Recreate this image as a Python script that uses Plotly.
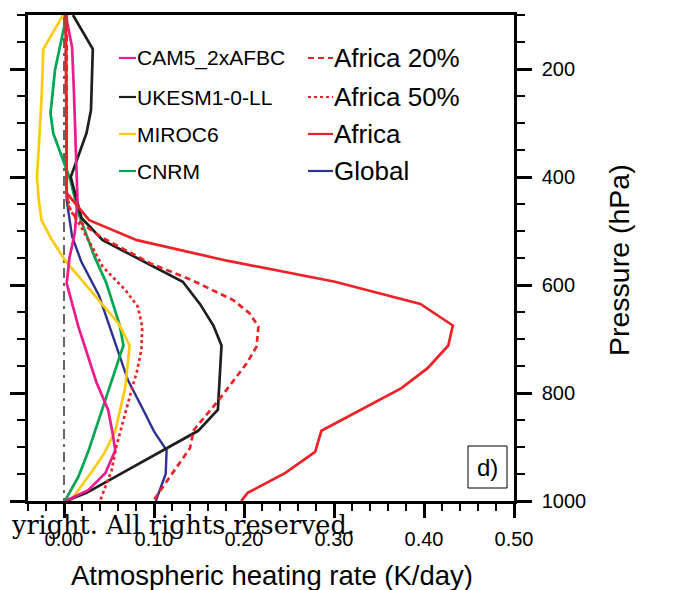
import plotly.graph_objects as go

# ---------------- data ----------------
cam5_p = [100, 160, 240, 393, 443, 504, 550, 597, 677, 780, 831, 874, 906, 948, 980, 995, 1000]
cam5_x = [0.002, 0.009, 0.011, 0.014, 0.015, 0.012, 0.006, 0.003, 0.016, 0.036, 0.049, 0.054, 0.057, 0.046, 0.027, 0.008, 0.001]

ukesm_p = [100, 163, 276, 319, 400, 476, 517, 594, 635, 675, 712, 831, 870, 985, 1000]
ukesm_x = [0.010, 0.032, 0.030, 0.025, 0.0075, 0.0195, 0.043, 0.132, 0.151, 0.166, 0.175, 0.171, 0.149, 0.025, 0.002]

miroc_p = [100, 163, 257, 400, 443, 480, 515, 554, 672, 712, 790, 831, 870, 911, 943, 1000]
miroc_x = [-0.001, -0.023, -0.025, -0.030, -0.028, -0.025, -0.014, 0.001, 0.061, 0.073, 0.068, 0.062, 0.057, 0.045, 0.032, 0.007]

cnrm_p = [100, 202, 282, 319, 405, 467, 548, 596, 675, 712, 908, 955, 1000]
cnrm_x = [0.003, -0.010, -0.015, -0.012, 0.007, 0.016, 0.034, 0.047, 0.062, 0.066, 0.027, 0.016, 0.001]

global_p = [100, 443, 510, 556, 620, 700, 776, 831, 871, 906, 950, 1000]
global_x = [0.002, 0.003, 0.009, 0.019, 0.039, 0.055, 0.071, 0.088, 0.100, 0.114, 0.113, 0.102]

africa_p = [100, 430, 480, 517, 555, 594, 635, 675, 712, 754, 791, 870, 909, 948, 985, 1000]
africa_x = [0.002, 0.003, 0.028, 0.081, 0.181, 0.301, 0.396, 0.432, 0.427, 0.404, 0.375, 0.286, 0.279, 0.246, 0.204, 0.197]

africa20_p = [100, 430, 455, 480, 510, 560, 591, 628, 652, 677, 714, 745, 813, 869, 902, 1000]
africa20_x = [0.003, 0.003, 0.005, 0.015, 0.040, 0.096, 0.142, 0.188, 0.206, 0.216, 0.214, 0.203, 0.172, 0.144, 0.140, 0.099]

africa50_p = [100, 430, 461, 498, 566, 609, 640, 677, 720, 760, 807, 900, 943, 1000]
africa50_x = [0.002, 0.003, 0.007, 0.021, 0.043, 0.068, 0.082, 0.087, 0.086, 0.081, 0.073, 0.058, 0.053, 0.040]

zero_x = [0.0, 0.0]
zero_p = [100, 1000]

x_ticks = [0.0, 0.1, 0.2, 0.3, 0.4, 0.5]
x_ticklabels = ["0.00", "0.10", "0.20", "0.30", "0.40", "0.50"]
y_ticks = [200, 400, 600, 800, 1000]

# ---------------- styles ----------------
PINK = "#EC1C8C"
BLACK = "#1E1E1E"
YELLOW = "#FDCB0E"
GREEN = "#00A651"
RED = "#ED2228"
BLUE = "#2E3192"
LONG = "6px,4px"
SHORT = "3px,3px"

FONT = "Liberation Sans, Arial, sans-serif"

# the page body adds an 8px offset; sizes below are set so the screen layout matches
OFF = 8
WIN_W, WIN_H = 691, 590
W, H = WIN_W - OFF, WIN_H - OFF
L, R, T, B = 28, 514, 15, 501   # plot area in screen pixels
PW, PH = R - L, B - T


def px(xp):
    return (xp - L) / PW


def py(yp):
    return (B - yp) / PH


fig = go.Figure()

fig.add_trace(go.Scatter(x=zero_x, y=zero_p, mode="lines",
                         line=dict(color="black", width=1.2, dash="10px,5px,3px,5px"),
                         hoverinfo="skip", showlegend=False))

series = [
    (global_x, global_p, BLUE, 2.4, "solid", "Global"),
    (cnrm_x, cnrm_p, GREEN, 2.7, "solid", "CNRM"),
    (miroc_x, miroc_p, YELLOW, 2.7, "solid", "MIROC6"),
    (ukesm_x, ukesm_p, BLACK, 2.7, "solid", "UKESM1-0-LL"),
    (cam5_x, cam5_p, PINK, 2.7, "solid", "CAM5_2xAFBC"),
    (africa50_x, africa50_p, RED, 2.7, SHORT, "Africa 50%"),
    (africa20_x, africa20_p, RED, 2.7, LONG, "Africa 20%"),
    (africa_x, africa_p, RED, 2.7, "solid", "Africa"),
]
for xs, ps, col, w, dash, name in series:
    fig.add_trace(go.Scatter(x=xs, y=ps, mode="lines", name=name,
                             line=dict(color=col, width=w, dash=dash),
                             showlegend=False))

axis_common = dict(showline=True, linecolor="black", linewidth=2.5,
                   showgrid=False, zeroline=False, ticks="outside",
                   tickcolor="black", tickwidth=2.5, automargin=False,
                   tickfont=dict(family=FONT, size=20, color="black"))

fig.update_xaxes(range=[-0.04, 0.50], tickvals=x_ticks, ticktext=x_ticklabels,
                 ticklen=14, mirror=True,
                 minor=dict(dtick=0.02, tick0=0, ticklen=7, tickwidth=2,
                            tickcolor="black", ticks="outside"),
                 ticklabelstandoff=4, **axis_common)
fig.update_yaxes(range=[1000, 100], tickvals=y_ticks, side="right",
                 ticklen=15, mirror="ticks",
                 minor=dict(dtick=50, tick0=0, ticklen=8, tickwidth=2,
                            tickcolor="black", ticks="outside"),
                 ticklabelstandoff=6, **axis_common)

shapes = []
annotations = []

# left legend column
left_items = [("CAM5_2xAFBC", PINK, 58), ("UKESM1-0-LL", BLACK, 97),
              ("MIROC6", YELLOW, 134), ("CNRM", GREEN, 171)]
for label, col, yy in left_items:
    shapes.append(dict(type="line", xref="paper", yref="paper",
                       x0=px(119), x1=px(136), y0=py(yy), y1=py(yy),
                       line=dict(color=col, width=2.2)))
    annotations.append(dict(text=label, xref="paper", yref="paper",
                            x=px(135), y=py(yy), xanchor="left", yanchor="middle",
                            showarrow=False,
                            font=dict(family=FONT, size=21, color="black")))

# right legend column
right_items = [("Africa 20%", RED, LONG, 58), ("Africa 50%", RED, SHORT, 97),
               ("Africa", RED, "solid", 134), ("Global", BLUE, "solid", 171)]
for label, col, dash, yy in right_items:
    shapes.append(dict(type="line", xref="paper", yref="paper",
                       x0=px(308), x1=px(333), y0=py(yy), y1=py(yy),
                       line=dict(color=col, width=2.2, dash=dash)))
    annotations.append(dict(text=label, xref="paper", yref="paper",
                            x=px(332), y=py(yy), xanchor="left", yanchor="middle",
                            showarrow=False,
                            font=dict(family=FONT, size=26, color="black")))

# panel label box
shapes.append(dict(type="rect", xref="paper", yref="paper",
                   x0=px(468), x1=px(507), y0=py(488), y1=py(446),
                   line=dict(color="black", width=1), fillcolor="white"))
annotations.append(dict(text="d)", xref="paper", yref="paper",
                        x=px(487.5), y=py(467), xanchor="center", yanchor="middle",
                        showarrow=False, font=dict(family=FONT, size=24, color="black")))

# axis titles
annotations.append(dict(text="Atmospheric heating rate (K/day)", xref="paper", yref="paper",
                        x=px(272), y=py(575), xanchor="center", yanchor="middle",
                        showarrow=False, font=dict(family=FONT, size=27.5, color="black")))
annotations.append(dict(text="Pressure (hPa)", xref="paper", yref="paper",
                        x=px(619), y=py(260), xanchor="center", yanchor="middle",
                        textangle=-90, showarrow=False,
                        font=dict(family=FONT, size=28.5, color="black")))

# watermark text
annotations.append(dict(text="yright. All rights reserved.", xref="paper", yref="paper",
                        x=px(9), y=py(525), xanchor="left", yanchor="middle",
                        showarrow=False,
                        font=dict(family="DejaVu Serif, Liberation Serif, serif", size=25.5, color="black")))

fig.update_layout(width=W, height=H, autosize=False,
                  margin=dict(l=L - OFF, r=WIN_W - R, t=T - OFF, b=WIN_H - B, pad=0, autoexpand=False),
                  paper_bgcolor="white", plot_bgcolor="white",
                  shapes=shapes, annotations=annotations, showlegend=False)

fig.write_html("out.html")
